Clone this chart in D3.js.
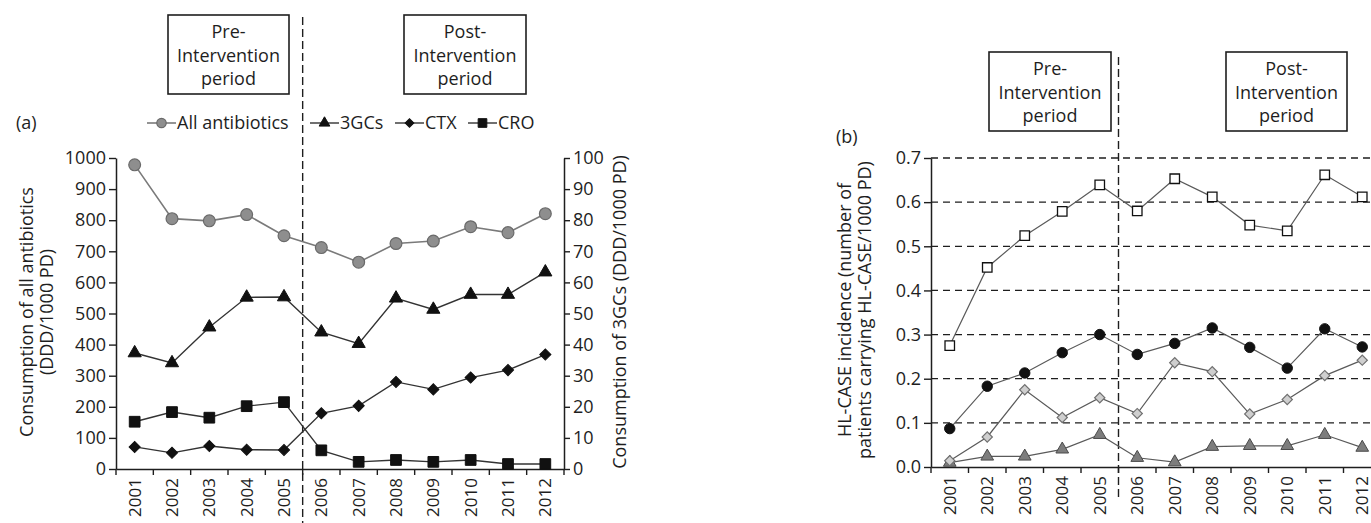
<!DOCTYPE html>
<html>
<head>
<meta charset="utf-8">
<script src="https://cdn.jsdelivr.net/npm/d3@7"></script>
<style>
  html, body { margin: 0; padding: 0; background: #fff; }
  svg { display: block; font-family: "Open Sans", sans-serif; font-size: 18px; }
  text { fill: #1e1e1e; }
</style>
</head>
<body>
<script>
// ---- categories and tick labels ----
const years = ["2001","2002","2003","2004","2005","2006","2007","2008","2009","2010","2011","2012"];
const leftTicks  = [0, 100, 200, 300, 400, 500, 600, 700, 800, 900, 1000];
const rightTicks = [0, 10, 20, 30, 40, 50, 60, 70, 80, 90, 100];
const incidenceTicks = [0, 0.1, 0.2, 0.3, 0.4, 0.5, 0.6, 0.7];

// ---- panel (a): consumption, DDD/1000 PD ----
const allAntibiotics = [978, 805, 798, 818, 750, 712, 665, 725, 733, 779, 760, 821]; // left axis
const gc3 = [37.3, 34.1, 45.6, 55.2, 55.3, 44.0, 40.3, 54.9, 51.3, 56.1, 56.1, 63.3]; // right axis
const ctx = [7.1, 5.2, 7.4, 6.2, 6.1, 17.9, 20.3, 28.0, 25.6, 29.4, 31.8, 36.8];       // right axis
const cro = [15.2, 18.3, 16.5, 20.2, 21.5, 6.0, 2.3, 2.9, 2.3, 2.9, 1.6, 1.6];          // right axis

// ---- panel (b): HL-CASE incidence per 1000 PD ----
const hlOpenSquare   = [0.275, 0.452, 0.524, 0.579, 0.639, 0.580, 0.653, 0.612, 0.548, 0.535, 0.662, 0.612];
const hlBlackCircle  = [0.087, 0.183, 0.213, 0.259, 0.300, 0.255, 0.280, 0.315, 0.271, 0.224, 0.313, 0.272];
const hlGreyDiamond  = [0.014, 0.068, 0.175, 0.112, 0.157, 0.121, 0.236, 0.216, 0.120, 0.153, 0.207, 0.242];
const hlGreyTriangle = [0.010, 0.024, 0.024, 0.040, 0.073, 0.021, 0.011, 0.046, 0.048, 0.048, 0.073, 0.044];

const periodLines = { pre: ["Pre-", "Intervention", "period"], post: ["Post-", "Intervention", "period"] };

const svg = d3.select("body").append("svg").attr("width", 1371).attr("height", 523);
const INK = "#1e1e1e";

// marker helper: diamonds are squares turned by 45 degrees
function marker(sel, shape, size) {
  const type = { circle: d3.symbolCircle, triangle: d3.symbolTriangle, square: d3.symbolSquare, diamond: d3.symbolSquare }[shape];
  return sel.attr("d", d3.symbol().type(type).size(size)());
}

function drawSeries(g, values, x, y, st) {
  const cx = d => x(d.year) + x.bandwidth() / 2;
  const pts = values.map((v, i) => ({ year: years[i], v }));
  g.append("path").datum(pts)
    .attr("fill", "none").attr("stroke", st.line).attr("stroke-width", st.lw)
    .attr("d", d3.line().x(cx).y(d => y(d.v)));
  g.append("g").selectAll("path").data(pts).join("path")
    .call(s => marker(s, st.shape, st.size))
    .attr("transform", d => `translate(${cx(d)},${y(d.v)})` + (st.shape === "diamond" ? " rotate(45)" : ""))
    .attr("fill", st.fill).attr("stroke", st.stroke).attr("stroke-width", st.sw);
}

function drawXAxis(g, x, y0) {
  const ax = g.append("g").attr("transform", `translate(0,${y0})`)
    .call(d3.axisBottom(x).tickSize(0).tickPadding(0));
  ax.attr("font-family", null).attr("font-size", null);
  ax.select(".domain").attr("stroke", INK).attr("stroke-width", 1.5);
  ax.selectAll(".tick text")
    .attr("transform", "rotate(-90)").attr("x", -9).attr("y", 0).attr("dy", "0.36em")
    .style("text-anchor", "end").style("font-size", "17px").attr("fill", INK);
  const r0 = x.range()[0], step = x.step();
  ax.append("g").selectAll("line").data(d3.range(x.domain().length + 1)).join("line")
    .attr("x1", i => r0 + i * step).attr("x2", i => r0 + i * step)
    .attr("y1", 0).attr("y2", 6).attr("stroke", INK).attr("stroke-width", 1.4);
}

function styleYAxis(ax) {
  ax.attr("font-family", null).attr("font-size", null);
  ax.select(".domain").attr("stroke", INK).attr("stroke-width", 1.5);
  ax.selectAll(".tick line").attr("stroke", INK).attr("stroke-width", 1.4);
  ax.selectAll(".tick text").attr("fill", INK);
}

function periodBox(g, x0, x1, top, lines) {
  g.append("rect").attr("x", x0).attr("y", top).attr("width", x1 - x0).attr("height", 79)
    .attr("fill", "#fff").attr("stroke", INK).attr("stroke-width", 1.6);
  g.append("text").attr("text-anchor", "middle")
    .selectAll("tspan").data(lines).join("tspan")
    .attr("x", (x0 + x1) / 2).attr("y", (d, i) => top + 23 + i * 23.5).text(d => d);
}

function rotatedTitle(g, cx, cy, lines, gap) {
  const t = g.append("text").attr("transform", `translate(${cx},${cy}) rotate(-90)`).attr("text-anchor", "middle");
  t.selectAll("tspan").data(lines).join("tspan").attr("x", 0).attr("y", (d, i) => i * gap).text(d => d);
}

// ================= panel (a) =================
const gA = svg.append("g");
const xA = d3.scaleBand().domain(years).range([116, 564]);
const yL = d3.scaleLinear().domain([0, 1000]).range([469, 158]);
const yR = d3.scaleLinear().domain([0, 100]).range([469, 158]);

// intervention divider
gA.append("line").attr("x1", xA("2006")).attr("x2", xA("2006")).attr("y1", 17).attr("y2", 523)
  .attr("stroke", INK).attr("stroke-width", 1.4).attr("stroke-dasharray", "8,4");

periodBox(gA, 168, 289, 15, periodLines.pre);
periodBox(gA, 404, 526, 15, periodLines.post);

styleYAxis(gA.append("g").attr("transform", "translate(116,0)")
  .call(d3.axisLeft(yL).tickValues(leftTicks).tickFormat(d3.format("d")).tickSize(7).tickSizeOuter(0).tickPadding(3)));
styleYAxis(gA.append("g").attr("transform", "translate(564,0)")
  .call(d3.axisRight(yR).tickValues(rightTicks).tickFormat(d3.format("d")).tickSize(6).tickSizeOuter(0).tickPadding(3)));
drawXAxis(gA, xA, 469);

rotatedTitle(gA, 33, 312, ["Consumption of all antibiotics", "(DDD/1000 PD)"], 20);
rotatedTitle(gA, 626, 312, ["Consumption of 3GCs (DDD/1000 PD)"], 0);

const stAll = { shape: "circle", size: 110, fill: "#8e8e8e", stroke: "#6a6a6a", sw: 1.2, line: "#7a7a7a", lw: 1.6 };
const stGc3 = { shape: "triangle", size: 75, fill: "#111", stroke: "#111", sw: 1, line: "#333", lw: 1.4 };
const stCtx = { shape: "diamond", size: 62, fill: "#111", stroke: "#111", sw: 1, line: "#333", lw: 1.4 };
const stCro = { shape: "square", size: 115, fill: "#111", stroke: "#111", sw: 1, line: "#333", lw: 1.4 };

drawSeries(gA, allAntibiotics, xA, yL, stAll);
drawSeries(gA, gc3, xA, yR, stGc3);
drawSeries(gA, ctx, xA, yR, stCtx);
drawSeries(gA, cro, xA, yR, stCro);

// panel tag and legend
gA.append("text").attr("x", 16).attr("y", 129).text("(a)");
const legendItems = [
  { label: "All antibiotics", st: stAll, x0: 147, size: 70 },
  { label: "3GCs", st: stGc3, x0: 310, size: 50 },
  { label: "CTX", st: stCtx, x0: 395, size: 38 },
  { label: "CRO", st: stCro, x0: 468, size: 75 }
];
const lg = gA.append("g");
legendItems.forEach(it => {
  const ly = 123;
  lg.append("line").attr("x1", it.x0).attr("x2", it.x0 + 29).attr("y1", ly).attr("y2", ly)
    .attr("stroke", it.st.line).attr("stroke-width", it.st.lw);
  lg.append("path").call(s => marker(s, it.st.shape, it.size))
    .attr("transform", `translate(${it.x0 + 14.5},${ly})` + (it.st.shape === "diamond" ? " rotate(45)" : ""))
    .attr("fill", it.st.fill).attr("stroke", it.st.stroke).attr("stroke-width", it.st.sw);
  lg.append("text").attr("x", it.x0 + 30).attr("y", ly).attr("dy", "0.36em").text(it.label);
});

// ================= panel (b) =================
const gB = svg.append("g");
const xB = d3.scaleBand().domain(years).range([931, 1381]);
const yB = d3.scaleLinear().domain([0, 0.7]).range([467, 158]);

// dashed horizontal grid
gB.append("g").selectAll("line").data(incidenceTicks.filter(v => v > 0)).join("line")
  .attr("x1", 931).attr("x2", 1381).attr("y1", d => yB(d)).attr("y2", d => yB(d))
  .attr("stroke", INK).attr("stroke-width", 1.3).attr("stroke-dasharray", "7,5");

gB.append("line").attr("x1", xB("2006")).attr("x2", xB("2006")).attr("y1", 57).attr("y2", 500)
  .attr("stroke", INK).attr("stroke-width", 1.4).attr("stroke-dasharray", "8,4");

periodBox(gB, 989, 1111, 52, periodLines.pre);
periodBox(gB, 1226, 1347, 52, periodLines.post);

styleYAxis(gB.append("g").attr("transform", "translate(931,0)")
  .call(d3.axisLeft(yB).tickValues(incidenceTicks).tickFormat(d3.format(".1f")).tickSize(7).tickSizeOuter(0).tickPadding(3)));
drawXAxis(gB, xB, 467);

gB.append("text").attr("x", 836).attr("y", 143).text("(b)");
rotatedTitle(gB, 851, 310, ["HL-CASE incidence (number of", "patients carrying HL-CASE/1000 PD)"], 20);

const thin = "#5a5a5a";
drawSeries(gB, hlGreyTriangle, xB, yB, { shape: "triangle", size: 70, fill: "#7d7d7d", stroke: "#4a4a4a", sw: 1, line: thin, lw: 1.2 });
drawSeries(gB, hlGreyDiamond, xB, yB, { shape: "diamond", size: 52, fill: "#cfcfcf", stroke: "#707070", sw: 1.2, line: thin, lw: 1.2 });
drawSeries(gB, hlBlackCircle, xB, yB, { shape: "circle", size: 85, fill: "#111", stroke: "#111", sw: 1, line: thin, lw: 1.2 });
drawSeries(gB, hlOpenSquare, xB, yB, { shape: "square", size: 90, fill: "#fff", stroke: "#111", sw: 1.3, line: thin, lw: 1.2 });
</script>
</body>
</html>
